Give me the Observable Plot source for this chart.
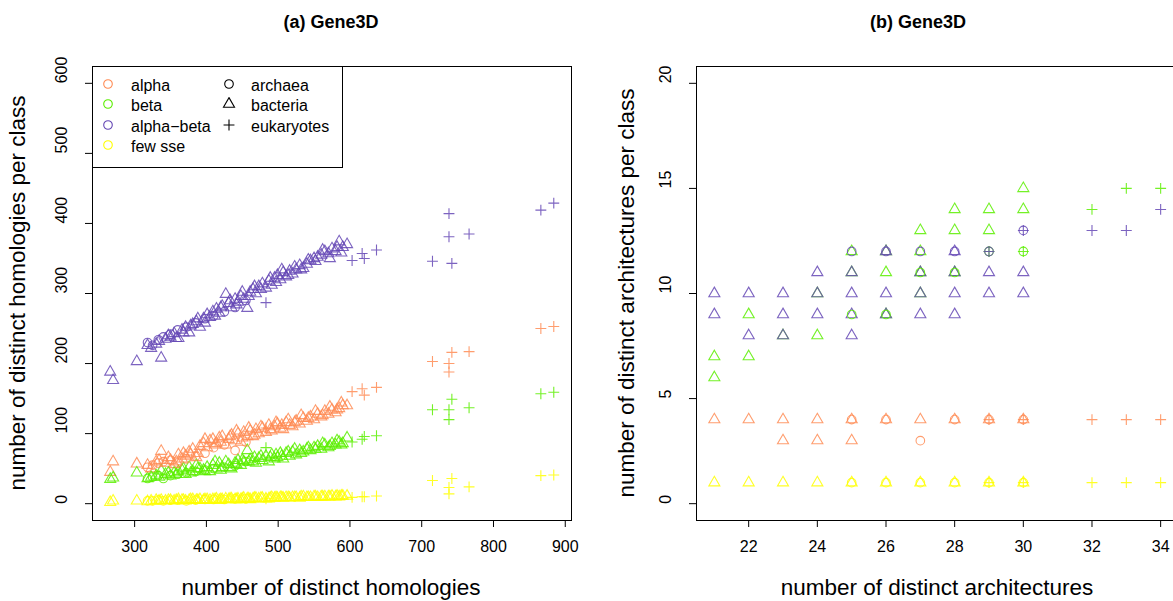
<!DOCTYPE html>
<html><head><meta charset="utf-8">
<script src="https://cdn.jsdelivr.net/npm/d3@7"></script>
<script src="https://cdn.jsdelivr.net/npm/@observablehq/plot@0.6"></script>
<style>
body{margin:0;background:#fff;overflow:hidden;font-family:"Liberation Sans",Arial,Helvetica,sans-serif;}
#wrap{position:relative;width:1173px;height:601px;overflow:hidden;background:#fff;}
.abs{position:absolute;white-space:nowrap;color:#000;line-height:1;}
.title{font-weight:bold;font-size:18px;transform:translate(-50%,-50%);}
.xlab{font-size:22.5px;transform:translate(-50%,-50%);}
.ylab{font-size:22.5px;transform:translate(-50%,-50%) rotate(-90deg);}
#legend{position:absolute;left:92px;top:66px;width:249px;height:100px;border:1px solid #000;background:#fff;}
.li{position:absolute;font-size:16px;line-height:1;transform:translateY(-50%);}
.ls{position:absolute;transform:translate(-50%,-50%);}
</style></head>
<body><div id="wrap"></div>
<script>
// ---------- class / kingdom definitions ----------
const classNames = ["alpha", "beta", "alpha\u2212beta", "few sse"];
const classColors = ["#FF8C55", "#5CEE00", "#6548B5", "#FFFF00"];
const kingdomNames = ["archaea", "bacteria", "eukaryotes"];

// ---------- panel (a): homologies, one entry per genome ----------
// kingdom: A = archaea, B = bacteria, E = eukaryotes
const homKingdom = [
 "B","B","B","B","B","B","B","B","B","B","B","B","B","B","B","B","B","B","B","B",
 "B","B","B","B","B","B","B","B","B","B","B","B","B","B","B","B","B","B","B","B",
 "B","B","B","B","B","B","B","B","B","B","B","B","B","B","B","B","B","B","B","B",
 "B",
 "A","A","A","A","A","A","A","A","A","A","A","A","A",
 "E","E","E","E","E","E","E","E","E","E","E","E",
 "B","B","B","B","B","B","B","B","B","B","B","B","B","B","B","B","B","B","B","B",
 "B","B","B","B","B","B","B","B"];
const homTotal = [
 266,270,303,318,323,330,337,343,350,355,361,366,371,376,381,386,391,396,401,405,
 409,414,418,422,427,431,435,440,444,448,452,457,461,465,469,473,478,483,487,491,
 495,499,503,507,511,516,520,525,530,535,540,545,550,555,560,565,570,575,580,585,
 590,
 318,325,333,340,350,360,372,385,398,410,425,440,455,
 483,603,617,620,637,715,738,738,742,766,866,884,
 334,347,358,368,378,388,398,412,420,433,442,450,459,467,476,489,497,505,514,523,
 532,542,552,562,572,582,588,596];
const homAlphaBeta = [
 188,176,203,226,222,228,208,235,238,243,236,248,252,244,256,260,252,264,270,266,
 274,278,272,282,299,286,280,292,288,296,292,279,302,306,300,310,314,308,318,312,
 322,326,320,330,324,332,328,334,340,336,342,347,350,352,355,360,357,364,360,374,
 366,
 230,226,234,238,242,248,252,258,264,268,274,280,290,
 287,347,357,350,362,346,414,381,343,385,419,429,
 232,240,236,244,254,264,258,268,280,290,284,302,296,310,306,322,316,334,326,338,
 334,348,346,362,350,366,358,370];
const homAlpha = [
 45,60,57,55,50,60,75,58,62,56,70,64,68,74,78,66,82,86,80,90,
 92,86,94,96,84,92,98,90,100,88,102,96,104,96,106,100,108,102,112,104,
 110,114,108,106,116,112,110,118,114,122,118,124,120,128,124,132,128,134,130,136,
 140,
 52,55,58,60,62,58,64,68,72,80,84,76,88,
 108,160,164,155,166,203,188,200,216,217,250,253,
 62,66,60,72,70,72,92,84,88,96,104,94,108,98,110,106,116,112,120,116,
 126,122,132,126,138,134,144,140];
const homBeta = [
 35,37,44,36,38,40,47,42,40,44,46,48,42,52,46,55,50,48,52,46,
 55,50,58,52,60,56,50,58,62,55,60,76,63,60,58,65,62,68,60,70,
 64,66,72,64,72,68,74,70,76,74,78,76,80,82,78,84,80,86,84,88,
 86,
 36,38,40,36,40,42,44,46,48,50,52,54,60,
 80,88,92,96,97,134,120,134,149,137,157,159,
 38,44,42,50,44,50,46,60,48,52,56,62,60,66,68,66,70,68,74,78,
 72,80,78,86,82,90,84,94];
const homFew = [
 2,4,4,3,4,5,5,4,5,4,6,5,4,5,6,5,6,5,6,5,
 6,7,5,6,7,6,7,6,7,6,8,7,6,7,8,7,8,7,7,9,
 8,8,9,8,9,8,9,9,8,10,9,9,10,9,10,10,10,11,10,10,
 11,
 4,4,5,4,5,5,4,5,6,6,6,7,7,
 7,9,10,10,11,33,14,23,36,24,40,41,
 4,5,5,5,6,5,6,6,6,7,6,7,7,8,8,8,9,9,9,9,
 10,9,10,10,10,11,11,11];

// ---------- panel (b): architectures, [architectures, per class] points ----------
const archAlphaBact = [[21,4],[22,4],[23,4],[24,4],[25,4],[26,4],[27,4],[28,4],[29,4],[30,4],[23,3],[24,3],[25,3]];
const archAlphaArch = [[27,3],[25,4],[26,4],[28,4],[29,4],[30,4]];
const archAlphaEuk  = [[29,4],[30,4],[32,4],[33,4],[34,4]];
const archBetaBact  = [[21,7],[21,6],[22,9],[22,7],[23,8],[24,10],[24,8],[25,12],[25,11],[26,12],[26,11],[26,9],[27,13],[27,12],[27,11],[27,10],[28,14],[28,13],[28,11],[29,14],[29,13],[30,15],[30,14]];
const archBetaArch  = [[25,9],[26,9],[27,11],[28,11],[29,12],[30,12]];
const archBetaEuk   = [[29,12],[30,12],[32,14],[33,15],[34,15]];
const archABBact    = [[21,10],[21,9],[22,10],[22,8],[23,10],[23,9],[23,8],[24,11],[24,10],[24,9],[25,11],[25,10],[25,9],[25,8],[26,12],[26,10],[26,9],[27,11],[27,10],[27,9],[28,12],[28,11],[28,10],[28,9],[29,11],[29,10],[30,11],[30,10]];
const archABArch    = [[25,12],[26,12],[27,12],[28,12],[29,12],[30,13]];
const archABEuk     = [[29,12],[30,13],[32,13],[33,13],[34,14]];
const archFewBact   = [[21,1],[22,1],[23,1],[24,1],[25,1],[26,1],[27,1],[28,1],[29,1],[30,1]];
const archFewArch   = [[25,1],[26,1],[27,1],[28,1],[29,1],[30,1]];
const archFewEuk    = [[29,1],[30,1],[32,1],[33,1],[34,1]];

// ---------- ticks ----------
const homXTicks = [300, 400, 500, 600, 700, 800, 900];
const homYTicks = [0, 100, 200, 300, 400, 500, 600];
const archXTicks = [22, 24, 26, 28, 30, 32, 34];
const archYTicks = [0, 5, 10, 15, 20];

// ---------- build tables ----------
const kMap = {A: "archaea", B: "bacteria", E: "eukaryotes"};
const homPts = [];
homTotal.forEach((t, i) => {
  const vals = [homAlpha[i], homBeta[i], homAlphaBeta[i], homFew[i]];
  vals.forEach((v, c) => homPts.push({x: t, y: v, cls: classNames[c], kingdom: kMap[homKingdom[i]]}));
});
const archPts = [];
const addArch = (arr, c, k) => arr.forEach(([x, y]) => archPts.push({x, y, cls: classNames[c], kingdom: k}));
addArch(archAlphaBact, 0, "bacteria"); addArch(archBetaBact, 1, "bacteria"); addArch(archABBact, 2, "bacteria"); addArch(archFewBact, 3, "bacteria");
addArch(archAlphaArch, 0, "archaea"); addArch(archBetaArch, 1, "archaea"); addArch(archABArch, 2, "archaea"); addArch(archFewArch, 3, "archaea");
addArch(archAlphaEuk, 0, "eukaryotes"); addArch(archBetaEuk, 1, "eukaryotes"); addArch(archABEuk, 2, "eukaryotes"); addArch(archFewEuk, 3, "eukaryotes");

const symR = {bacteria: 4.1, archaea: 4.3, eukaryotes: 3.6};
const symName = {bacteria: "triangle", archaea: "circle", eukaryotes: "plus"};

function pointMarks(pts) {
  return ["bacteria", "archaea", "eukaryotes"].map(k =>
    Plot.dot(pts.filter(d => d.kingdom === k), {
      x: "x", y: "y", stroke: "cls", symbol: symName[k], r: symR[k],
      fill: "none", strokeWidth: 1.1, strokeOpacity: 0.85
    }));
}

function panel({width, marginLeft, xDomain, yDomain, xTicks, yTicks, pts}) {
  return Plot.plot({
    width, height: 601,
    marginLeft, marginRight: 15, marginTop: 66, marginBottom: 81,
    style: {fontFamily: "'Liberation Sans', Arial, Helvetica, sans-serif", fontSize: "16px", background: "transparent", overflow: "visible"},
    x: {domain: xDomain},
    y: {domain: yDomain},
    color: {domain: classNames, range: classColors},
    marks: [
      Plot.axisX({ticks: xTicks, tickSize: 7, tickFormat: () => "", label: null}),
      Plot.text(xTicks, {x: d => d, frameAnchor: "bottom", dy: 31, text: d => String(d), fontSize: 16}),
      Plot.axisY({ticks: yTicks, tickSize: 7, tickFormat: () => "", label: null}),
      Plot.text(yTicks, {y: d => d, frameAnchor: "left", dx: -31, rotate: -90, text: d => String(d), fontSize: 16}),
      ...pointMarks(pts),
      Plot.frame({stroke: "#000", strokeWidth: 1})
    ]
  });
}

const wrap = document.getElementById("wrap");

const left = panel({width: 586, marginLeft: 92, xDomain: [241.3, 908.7], yDomain: [-24, 624], xTicks: homXTicks, yTicks: homYTicks, pts: homPts});
left.style.position = "absolute"; left.style.left = "0px"; left.style.top = "0px";
wrap.appendChild(left);

const right = panel({width: 607, marginLeft: 110, xDomain: [20.48, 34.52], yDomain: [-0.8, 20.8], xTicks: archXTicks, yTicks: archYTicks, pts: archPts});
right.style.position = "absolute"; right.style.left = "586px"; right.style.top = "0px";
wrap.appendChild(right);

// ---------- texts ----------
function addText(cls, txt, x, y) {
  const d = document.createElement("div");
  d.className = "abs " + cls; d.textContent = txt;
  d.style.left = x + "px"; d.style.top = y + "px";
  wrap.appendChild(d);
}
addText("title", "(a) Gene3D", 331, 22);
addText("title", "(b) Gene3D", 918, 22);
addText("xlab", "number of distinct homologies", 331, 588);
addText("xlab", "number of distinct architectures", 937, 588);
addText("ylab", "number of distinct homologies per class", 18, 293);
addText("ylab", "number of distinct architectures per class", 627, 293);

// ---------- legend ----------
const leg = document.createElement("div"); leg.id = "legend"; wrap.appendChild(leg);
function sym(kind, color) {
  const ns = "http://www.w3.org/2000/svg";
  const s = document.createElementNS(ns, "svg");
  s.setAttribute("width", 14); s.setAttribute("height", 14);
  s.setAttribute("viewBox", "-7 -7 14 14");
  const p = document.createElementNS(ns, "path");
  const gen = d3.symbol(kind === "triangle" ? d3.symbolTriangle : kind === "plus" ? d3.symbolPlus : d3.symbolCircle,
    Math.PI * Math.pow(symR[kind === "triangle" ? "bacteria" : kind === "plus" ? "eukaryotes" : "archaea"], 2));
  p.setAttribute("d", gen());
  p.setAttribute("fill", "none"); p.setAttribute("stroke", color); p.setAttribute("stroke-width", 1.1);
  s.appendChild(p);
  return s;
}
const rowsY = [19, 39, 60, 80];
classNames.forEach((c, i) => {
  const s = document.createElement("div"); s.className = "ls"; s.style.left = "15px"; s.style.top = rowsY[i] + "px";
  s.appendChild(sym("circle", classColors[i])); leg.appendChild(s);
  const t = document.createElement("div"); t.className = "li"; t.style.left = "38px"; t.style.top = rowsY[i] + "px";
  t.textContent = c; leg.appendChild(t);
});
const kSym = ["circle", "triangle", "plus"];
kingdomNames.forEach((k, i) => {
  const s = document.createElement("div"); s.className = "ls"; s.style.left = "136px"; s.style.top = rowsY[i] + "px";
  s.appendChild(sym(kSym[i], "#000")); leg.appendChild(s);
  const t = document.createElement("div"); t.className = "li"; t.style.left = "158px"; t.style.top = rowsY[i] + "px";
  t.textContent = k; leg.appendChild(t);
});
</script></body></html>
